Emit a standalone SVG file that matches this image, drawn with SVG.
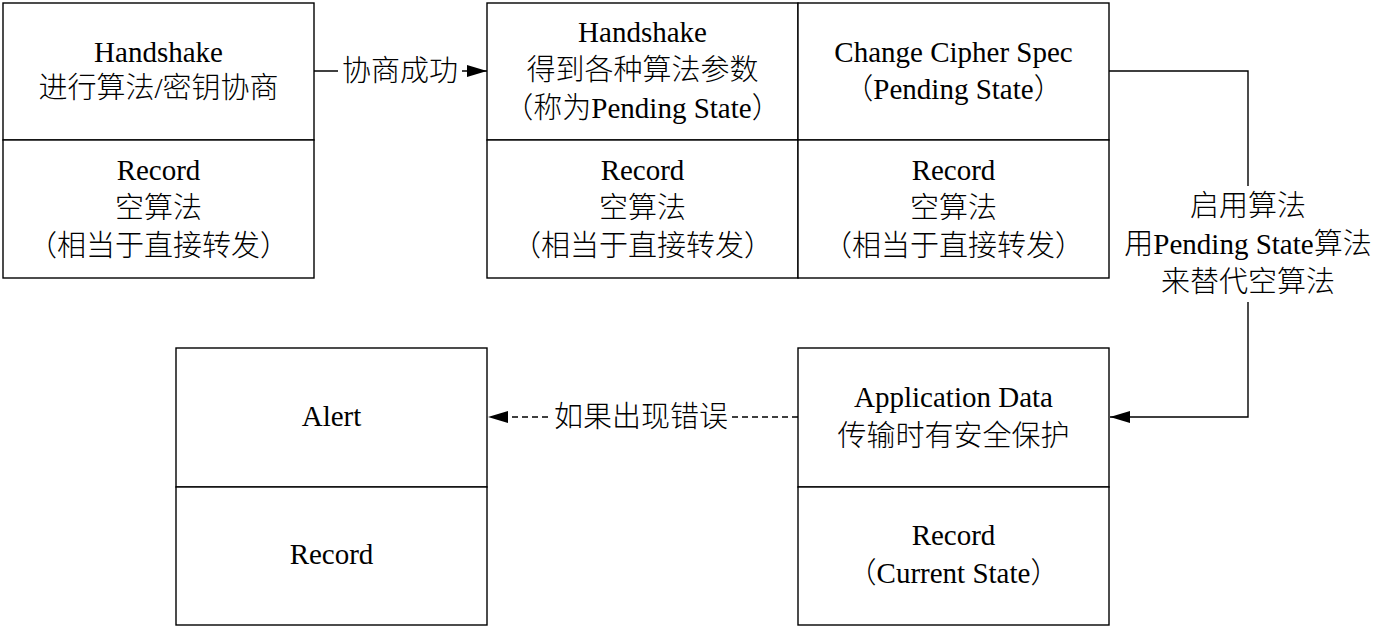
<svg xmlns="http://www.w3.org/2000/svg" width="1378" height="629" viewBox="0 0 1378 629">
<style>
.box{fill:#fff;stroke:#000;stroke-width:1.4}
.t{font-family:"Liberation Serif","Noto Sans CJK SC",serif;font-size:29px;font-weight:300;fill:#000;text-anchor:middle}
.ln{fill:none;stroke:#000;stroke-width:1.4}
.dash{stroke-dasharray:6 4}
.bg{fill:#fff}
</style>
<defs>
<marker id="ah" markerWidth="20" markerHeight="12" refX="20" refY="6" orient="auto" markerUnits="userSpaceOnUse">
<path d="M0,0 L20,6 L0,12 Z" fill="#000"/>
</marker>
</defs>
<rect width="1378" height="629" fill="#fff"/>
<g id="connectors">
<line class="ln" x1="314" y1="71" x2="487" y2="71" marker-end="url(#ah)"/>
<rect class="bg" x="338" y="52" width="124" height="38"/>
<text class="t" x="400" y="81">协商成功</text>
<path class="ln" d="M1109,71 H1248 V417 H1110" marker-end="url(#ah)"/>
<rect class="bg" x="1122" y="186" width="252" height="116"/>
<text class="t" x="1248" y="216">启用算法</text>
<text class="t" x="1248" y="254">用Pending State算法</text>
<text class="t" x="1248" y="292">来替代空算法</text>
<line class="ln dash" x1="798" y1="417" x2="488" y2="417" marker-end="url(#ah)"/>
<rect class="bg" x="552" y="398" width="178" height="38"/>
<text class="t" x="641" y="427">如果出现错误</text>
</g>
<g id="node-handshake1">
<rect class="box" x="3" y="3" width="311" height="137"/>
<text class="t" x="158.5" y="62">Handshake</text>
<text class="t" x="158.5" y="98">进行算法/密钥协商</text>
</g>
<g id="node-record1">
<rect class="box" x="3" y="140" width="311" height="138"/>
<text class="t" x="158.5" y="180">Record</text>
<text class="t" x="158.5" y="218">空算法</text>
<text class="t" x="158.5" y="256">（相当于直接转发）</text>
</g>
<g id="node-handshake2">
<rect class="box" x="487" y="3" width="311" height="137"/>
<text class="t" x="642.5" y="42">Handshake</text>
<text class="t" x="642.5" y="80">得到各种算法参数</text>
<text class="t" x="642.5" y="118">（称为Pending State）</text>
</g>
<g id="node-record2">
<rect class="box" x="487" y="140" width="311" height="138"/>
<text class="t" x="642.5" y="180">Record</text>
<text class="t" x="642.5" y="218">空算法</text>
<text class="t" x="642.5" y="256">（相当于直接转发）</text>
</g>
<g id="node-ccs">
<rect class="box" x="798" y="3" width="311" height="137"/>
<text class="t" x="953.5" y="62">Change Cipher Spec</text>
<text class="t" x="953.5" y="99">（Pending State）</text>
</g>
<g id="node-record3">
<rect class="box" x="798" y="140" width="311" height="138"/>
<text class="t" x="953.5" y="180">Record</text>
<text class="t" x="953.5" y="218">空算法</text>
<text class="t" x="953.5" y="256">（相当于直接转发）</text>
</g>
<g id="node-alert">
<rect class="box" x="176" y="348" width="311" height="139"/>
<text class="t" x="331.5" y="426">Alert</text>
</g>
<g id="node-record4">
<rect class="box" x="176" y="487" width="311" height="138"/>
<text class="t" x="331.5" y="564">Record</text>
</g>
<g id="node-appdata">
<rect class="box" x="798" y="348" width="311" height="139"/>
<text class="t" x="953.5" y="407">Application Data</text>
<text class="t" x="953.5" y="446">传输时有安全保护</text>
</g>
<g id="node-record5">
<rect class="box" x="798" y="487" width="311" height="138"/>
<text class="t" x="953.5" y="545">Record</text>
<text class="t" x="953.5" y="583">（Current State）</text>
</g>
</svg>
